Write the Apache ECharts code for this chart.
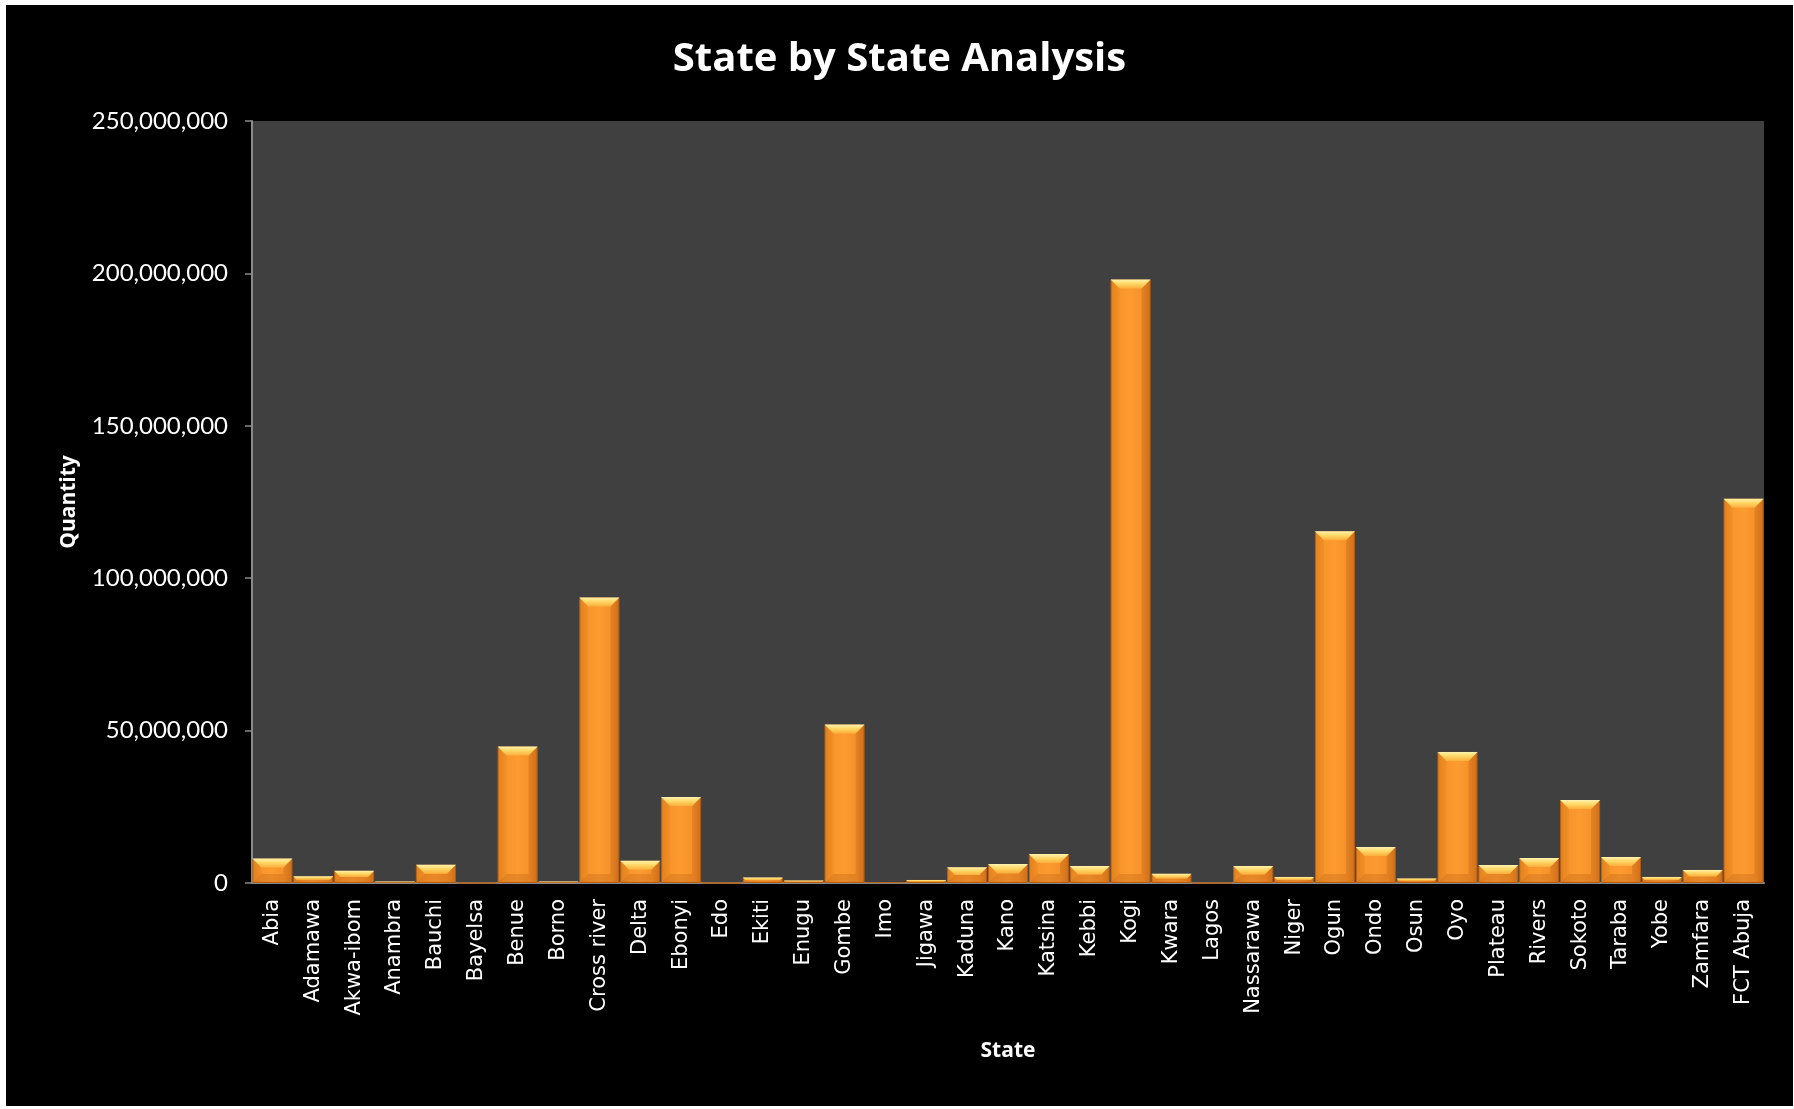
<!DOCTYPE html>
<html>
<head>
<meta charset="utf-8">
<title>State by State Analysis</title>
<script src="https://cdn.jsdelivr.net/npm/echarts@6/dist/echarts.min.js"></script>
<style>
  html, body { margin: 0; padding: 0; background: #ffffff; width: 1794px; height: 1109px; overflow: hidden; }
  #chart { position: absolute; left: 6px; top: 5px; width: 1787px; height: 1101px; background: #000000; }
</style>
</head>
<body>
<div id="chart"></div>
<script>
// Quantity delivered per state
const states = [
  'Abia', 'Adamawa', 'Akwa-ibom', 'Anambra', 'Bauchi', 'Bayelsa', 'Benue', 'Borno',
  'Cross river', 'Delta', 'Ebonyi', 'Edo', 'Ekiti', 'Enugu', 'Gombe', 'Imo', 'Jigawa',
  'Kaduna', 'Kano', 'Katsina', 'Kebbi', 'Kogi', 'Kwara', 'Lagos', 'Nassarawa', 'Niger',
  'Ogun', 'Ondo', 'Osun', 'Oyo', 'Plateau', 'Rivers', 'Sokoto', 'Taraba', 'Yobe',
  'Zamfara', 'FCT Abuja'
];
const quantities = [
  8000000, 2200000, 4000000, 500000, 6000000, 0, 44800000, 500000,
  93700000, 7300000, 28200000, 0, 1800000, 800000, 52000000, 300000, 1000000,
  5200000, 6200000, 9500000, 5600000, 198000000, 3000000, 0, 5600000, 2000000,
  115400000, 11800000, 1500000, 43000000, 5900000, 8200000, 27200000, 8500000, 2000000,
  4300000, 126100000
];
// Value axis range
const yMin = 0;
const yMax = 250000000;
const yStep = 50000000;

const chart = echarts.init(document.getElementById('chart'), null, { renderer: 'canvas' });

const GAP = 0.02;
const labelColor = '#ffffff';
const axisGray = '#8a8a8a';

// Bevel decoration drawn on top of each bar
function bevel(params, api) {
  const v = api.value(1);
  if (!v) return null;
  const top = api.coord([api.value(0), v]);
  const base = api.coord([api.value(0), 0]);
  const bw = api.size([1, 0])[0] * (1 - GAP);
  const x0 = top[0] - bw / 2, x1 = top[0] + bw / 2;
  const y0 = top[1], y1 = base[1];
  const h = y1 - y0;
  if (h < 1) return null;
  const b = Math.min(9, h / 2, bw / 2);
  return {
    type: 'group',
    silent: true,
    children: [
      {
        type: 'polygon',
        shape: { points: [[x0, y0], [x0 + b, y0 + b], [x0 + b, y1 - b], [x0, y1]] },
        style: { fill: 'rgba(200,105,20,0.16)' }
      },
      {
        type: 'polygon',
        shape: { points: [[x1, y0], [x1 - b, y0 + b], [x1 - b, y1 - b], [x1, y1]] },
        style: { fill: 'rgba(160,75,10,0.22)' }
      },
      {
        type: 'polygon',
        shape: { points: [[x0, y1], [x0 + b, y1 - b], [x1 - b, y1 - b], [x1, y1]] },
        style: { fill: 'rgba(170,80,10,0.25)' }
      },
      {
        type: 'polygon',
        shape: { points: [[x0, y0], [x1, y0], [x1 - b, y0 + b], [x0 + b, y0 + b]] },
        style: {
          fill: new echarts.graphic.LinearGradient(0, 0, 0, 1, [
            { offset: 0, color: '#fff2b0' },
            { offset: 0.45, color: '#ffd866' },
            { offset: 1, color: '#fbae3c' }
          ])
        }
      }
    ]
  };
}

chart.setOption({
  backgroundColor: '#000000',
  animation: false,
  title: {
    text: 'State by State Analysis',
    left: 'center',
    top: 30,
    textStyle: { color: '#ffffff', fontFamily: 'Open Sans', fontWeight: 'bold', fontSize: 40 }
  },
  grid: {
    left: 246,
    right: 29,
    top: 116,
    bottom: 223,
    show: true,
    backgroundColor: '#404040',
    borderWidth: 0
  },
  xAxis: {
    type: 'category',
    data: states,
    name: 'State',
    nameLocation: 'middle',
    nameGap: 158,
    nameTextStyle: { color: '#ffffff', fontFamily: 'Open Sans', fontWeight: 'bold', fontSize: 21 },
    axisLine: { show: true, lineStyle: { color: axisGray, width: 2 } },
    axisTick: { show: false },
    axisLabel: {
      interval: 0,
      rotate: 90,
      margin: 16,
      color: labelColor,
      fontFamily: 'DejaVu Sans',
      fontSize: 21
    },
    splitLine: { show: false }
  },
  yAxis: {
    type: 'value',
    min: yMin,
    max: yMax,
    interval: yStep,
    name: 'Quantity',
    nameLocation: 'middle',
    nameGap: 172,
    nameTextStyle: { color: '#ffffff', fontFamily: 'Open Sans', fontWeight: 'bold', fontSize: 21 },
    axisLine: { show: true, lineStyle: { color: axisGray, width: 2 } },
    axisTick: { show: true, inside: false, length: 7, lineStyle: { color: axisGray, width: 1.5 } },
    axisLabel: {
      margin: 24,
      color: labelColor,
      fontFamily: 'Lato',
      fontSize: 24,
      formatter: v => v.toLocaleString('en-US')
    },
    splitLine: { show: false }
  },
  series: [
    {
      name: 'Quantity',
      type: 'bar',
      data: quantities,
      barCategoryGap: (GAP * 100) + '%',
      itemStyle: {
        color: new echarts.graphic.LinearGradient(0, 0, 1, 0, [
          { offset: 0, color: '#e8851f' },
          { offset: 0.2, color: '#f8952b' },
          { offset: 0.5, color: '#fc9b30' },
          { offset: 0.8, color: '#f5912a' },
          { offset: 1, color: '#e07a1d' }
        ]),
        borderColor: '#b0621a',
        borderWidth: 1
      },
      z: 2
    },
    {
      name: 'bevel',
      type: 'custom',
      data: quantities.map((q, i) => [i, q]),
      renderItem: bevel,
      silent: true,
      z: 3
    }
  ]
});
</script>
</body>
</html>
